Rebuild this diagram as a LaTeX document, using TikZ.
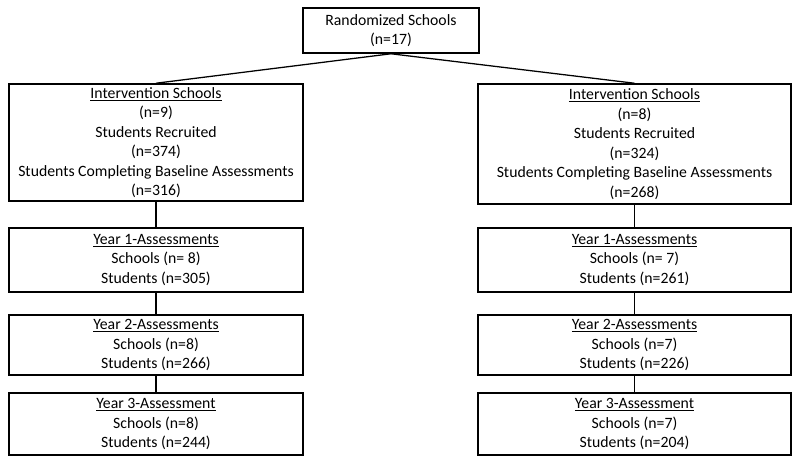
\documentclass[tikz,border=0pt]{standalone}
\usepackage{fontspec}
\setmainfont{Carlito}
\usetikzlibrary{positioning}

\begin{document}
\begin{tikzpicture}[
    box/.style={rectangle, draw=black, line width=1.1pt, align=center, inner sep=2pt,
                font=\fontsize{11.2}{13.9}\selectfont},
    wide/.style={box, minimum width=#1},
    link/.style={line width=0.9pt}
]
\useasboundingbox (0,0) rectangle (20,-11.625);

% Randomization
\node[box, minimum width=4.4cm, minimum height=1.125cm] (rand) at (9.775,-0.7625) {Randomized Schools\\(n=17)};

% Intervention arms
\node[wide=7.35cm, minimum height=2.925cm] (intL) at (3.9,-3.5625) {\underline{Intervention Schools}\\(n=9)\\Students Recruited\\(n=374)\\Students Completing Baseline Assessments\\(n=316)};
\node[wide=7.825cm, minimum height=3cm] (intR) at (15.8625,-3.6) {\underline{Intervention Schools}\\(n=8)\\Students Recruited\\(n=324)\\Students Completing Baseline Assessments\\(n=268)};

% Follow-up, left arm
\node[wide=7.35cm, minimum height=1.6cm] (yearL1) at (3.9,-6.5) {\underline{Year 1-Assessments}\\Schools (n= 8)\\Students (n=305)};
\node[wide=7.35cm, minimum height=1.5cm] (yearL2) at (3.9,-8.625) {\underline{Year 2-Assessments}\\Schools (n=8)\\Students (n=266)};
\node[wide=7.35cm, minimum height=1.55cm] (yearL3) at (3.9,-10.6) {\underline{Year 3-Assessment}\\Schools (n=8)\\Students (n=244)};

% Follow-up, right arm
\node[wide=7.825cm, minimum height=1.6cm] (yearR1) at (15.8625,-6.5) {\underline{Year 1-Assessments}\\Schools (n= 7)\\Students (n=261)};
\node[wide=7.825cm, minimum height=1.5cm] (yearR2) at (15.8625,-8.625) {\underline{Year 2-Assessments}\\Schools (n=7)\\Students (n=226)};
\node[wide=7.825cm, minimum height=1.55cm] (yearR3) at (15.8625,-10.6) {\underline{Year 3-Assessment}\\Schools (n=7)\\Students (n=204)};

% Connections
\draw[link] (rand.south) -- (intL.north);
\draw[link] (rand.south) -- (intR.north);
\draw[link] (intL) -- (yearL1);
\draw[link] (yearL1) -- (yearL2);
\draw[link] (yearL2) -- (yearL3);
\draw[link] (intR) -- (yearR1);
\draw[link] (yearR1) -- (yearR2);
\draw[link] (yearR2) -- (yearR3);

\end{tikzpicture}
\end{document}
